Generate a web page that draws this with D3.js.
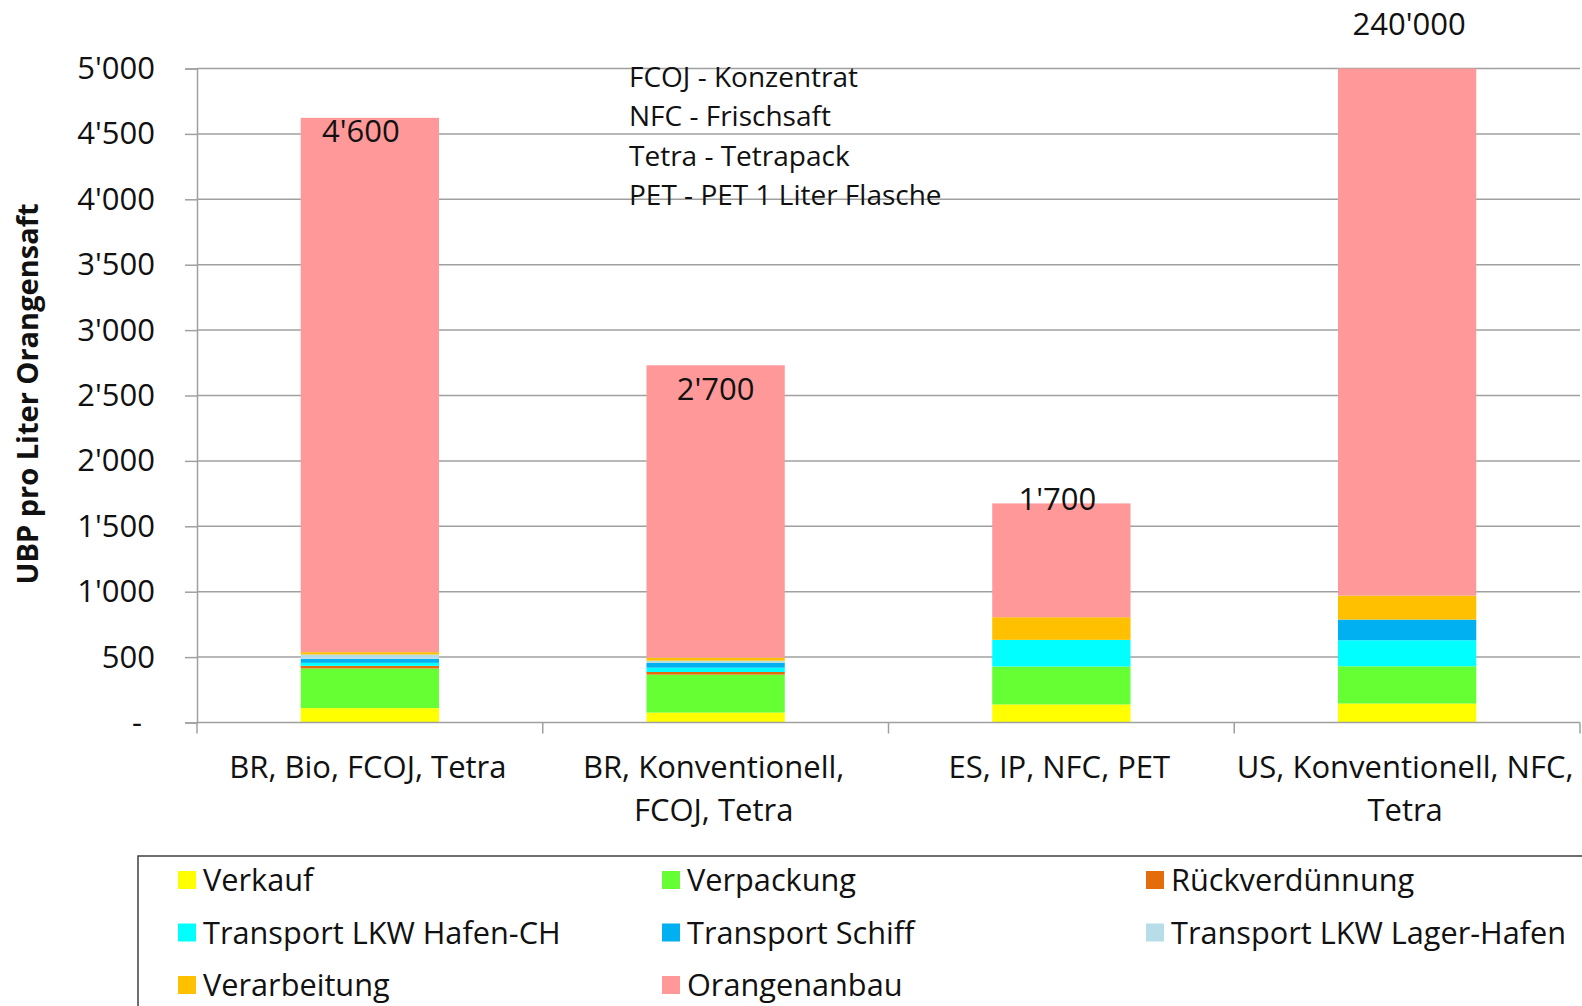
<!DOCTYPE html>
<html>
<head>
<meta charset="utf-8">
<script src="https://cdn.jsdelivr.net/npm/d3@7"></script>
<style>
    body { margin: 0; background: #fff; }
    text { font-family: "Open Sans", sans-serif; fill: #111; }
</style>
</head>
<body>
<script>
"use strict";

// categories (x axis), each split in two lines like the original
let categories = ["BR, Bio, FCOJ, Tetra", "BR, Konventionell, FCOJ, Tetra", "ES, IP, NFC, PET", "US, Konventionell, NFC, Tetra"];
let categoryLines = [["BR, Bio, FCOJ, Tetra"], ["BR, Konventionell,", "FCOJ, Tetra"], ["ES, IP, NFC, PET"], ["US, Konventionell, NFC,", "Tetra"]];

// stack series, bottom to top
let seriesNames = ["Verkauf", "Verpackung", "Rückverdünnung", "Transport LKW Hafen-CH", "Transport Schiff", "Transport LKW Lager-Hafen", "Verarbeitung", "Orangenanbau"];
let seriesColors = ["#FFFF00", "#66FF33", "#E46C0A", "#00FFFF", "#00B0F0", "#B7DEE8", "#FFC000", "#FF9999"];

// UBP per litre, one array per series (same order as categories)
let verkauf = [110, 76, 138, 145];
let verpackung = [303, 290, 290, 285];
let rueckverduennung = [20, 20, 0, 0];
let lkwHafenCH = [23, 33, 204, 199];
let schiff = [31, 36, 0, 158];
let lkwLagerHafen = [33, 18, 0, 0];
let verarbeitung = [18, 23, 173, 183];
let orangenanbau = [4085, 2235, 870, 239030];

let totalLabels = ["4'600", "2'700", "1'700", "240'000"];

let yTicks = [0, 500, 1000, 1500, 2000, 2500, 3000, 3500, 4000, 4500, 5000];
let yTickLabels = ["-", "500", "1'000", "1'500", "2'000", "2'500", "3'000", "3'500", "4'000", "4'500", "5'000"];

let notes = ["FCOJ - Konzentrat", "NFC - Frischsaft", "Tetra - Tetrapack", "PET - PET 1 Liter Flasche"];

(function () {

    let self = {};
    let W = 1582, H = 1006;
    let plot = {left: 197, right: 1580, top: 68.5, bottom: 722.5};

    self.svg = d3.select("body").append("svg")
        .attr("width", W)
        .attr("height", H);

    let values = [verkauf, verpackung, rueckverduennung, lkwHafenCH, schiff, lkwLagerHafen, verarbeitung, orangenanbau];

    // table for d3.stack
    let table = categories.map(function (c, i) {
        let row = {cat: c};
        seriesNames.forEach(function (s, j) { row[s] = values[j][i]; });
        return row;
    });
    let stacked = d3.stack().keys(seriesNames)(table);

    let x = d3.scaleBand()
        .domain(categories)
        .range([plot.left, plot.right])
        .paddingInner(0.6)
        .paddingOuter(0.3);

    let y = d3.scaleLinear()
        .domain([0, 5000])
        .range([plot.bottom, plot.top]);

    let color = d3.scaleOrdinal().domain(seriesNames).range(seriesColors);

    // grid lines
    self.svg.append("g")
        .selectAll("line")
        .data(yTicks.slice(1))
        .enter().append("line")
        .attr("x1", plot.left).attr("x2", plot.right)
        .attr("y1", d => y(d)).attr("y2", d => y(d))
        .attr("stroke", "#a0a0a0")
        .attr("stroke-width", 1.5);

    // y axis
    let yAxis = d3.axisLeft(y)
        .tickValues(yTicks)
        .tickSize(12)
        .tickPadding(30)
        .tickFormat((d, i) => yTickLabels[i]);

    let gy = self.svg.append("g")
        .attr("transform", "translate(" + plot.left + ",0)")
        .call(yAxis);
    gy.select(".domain").attr("stroke", "#a0a0a0").attr("stroke-width", 1.5);
    gy.selectAll(".tick line").attr("stroke", "#a0a0a0").attr("stroke-width", 1.5);
    gy.selectAll(".tick text")
        .style("font-family", "'Open Sans', sans-serif")
        .style("font-size", "31px")
        .attr("fill", "#111")
        .attr("dx", d => d === 0 ? -13 : 0);   // the dash sits a bit further left

    // bars, clipped at the top of the plot (the US bar goes to 240'000)
    self.svg.append("clipPath").attr("id", "plotclip")
        .append("rect")
        .attr("x", plot.left).attr("y", plot.top)
        .attr("width", plot.right - plot.left)
        .attr("height", plot.bottom - plot.top);

    self.svg.append("g")
        .attr("clip-path", "url(#plotclip)")
        .selectAll("g.series")
        .data(stacked)
        .enter().append("g")
        .attr("class", "series")
        .attr("fill", d => color(d.key))
        .selectAll("rect")
        .data(d => d)
        .enter().append("rect")
        .attr("x", d => x(d.data.cat))
        .attr("width", x.bandwidth())
        .attr("y", d => y(d[1]))
        .attr("height", d => Math.max(0, y(d[0]) - y(d[1])));

    // x axis line + category ticks
    self.svg.append("line")
        .attr("x1", plot.left).attr("x2", plot.right)
        .attr("y1", plot.bottom).attr("y2", plot.bottom)
        .attr("stroke", "#a0a0a0").attr("stroke-width", 1.5);

    let step = x.step();
    self.svg.append("g")
        .selectAll("line")
        .data(d3.range(categories.length + 1))
        .enter().append("line")
        .attr("x1", i => plot.left + i * step).attr("x2", i => plot.left + i * step)
        .attr("y1", plot.bottom).attr("y2", plot.bottom + 11)
        .attr("stroke", "#a0a0a0").attr("stroke-width", 1.5);

    // category labels
    let catG = self.svg.append("g")
        .selectAll("text")
        .data(categories)
        .enter().append("text")
        .attr("text-anchor", "middle")
        .style("font-size", "31px")
        .attr("transform", d => "translate(" + (x(d) + x.bandwidth() / 2 - 2) + "," + (plot.bottom + 55) + ")");
    catG.selectAll("tspan")
        .data((d, i) => categoryLines[i])
        .enter().append("tspan")
        .attr("x", 0)
        .attr("dy", (d, i) => i === 0 ? 0 : 43)
        .text(d => d);

    // total labels (moved by hand in the original chart)
    let nudge = [[-9, 24], [0, 35], [-4, 7], [2, -34]];
    self.svg.append("g")
        .selectAll("text")
        .data(categories)
        .enter().append("text")
        .attr("text-anchor", "middle")
        .style("font-size", "31px")
        .attr("x", (d, i) => x(d) + x.bandwidth() / 2 + nudge[i][0])
        .attr("y", (d, i) => y(Math.min(5000, d3.sum(values, v => v[i]))) + nudge[i][1])
        .text((d, i) => totalLabels[i]);

    // abbreviation notes
    self.svg.append("g")
        .selectAll("text")
        .data(notes)
        .enter().append("text")
        .attr("x", 629)
        .attr("y", (d, i) => 87 + i * 39.4)
        .style("font-size", "28px")
        .text(d => d);

    // y axis title
    self.svg.append("text")
        .attr("transform", "translate(38,394) rotate(-90)")
        .attr("text-anchor", "middle")
        .style("font-size", "29px")
        .style("font-weight", "bold")
        .text("UBP pro Liter Orangensaft");

    // legend
    let legend = self.svg.append("g");
    legend.append("rect")
        .attr("x", 138).attr("y", 856)
        .attr("width", 1500).attr("height", 200)
        .attr("fill", "none")
        .attr("stroke", "#404040")
        .attr("stroke-width", 1.5);

    let item = legend.selectAll("g.item")
        .data(seriesNames)
        .enter().append("g")
        .attr("class", "item")
        .attr("transform", (d, i) => "translate(" + (178 + (i % 3) * 484) + "," + (880 + Math.floor(i / 3) * 52.5) + ")");
    item.append("rect")
        .attr("x", 0).attr("y", -9)
        .attr("width", 18).attr("height", 18)
        .attr("fill", d => color(d));
    item.append("text")
        .attr("x", 25)
        .attr("y", 11)
        .style("font-size", "30.7px")
        .text(d => d);

})();
</script>
</body>
</html>
